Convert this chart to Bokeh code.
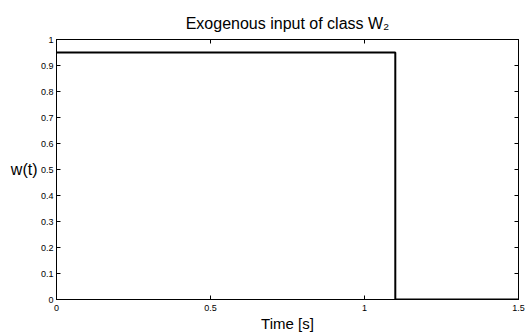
from bokeh.plotting import figure
from bokeh.models import LinearAxis, FixedTicker, Range1d
from bokeh.embed import file_html
from bokeh.resources import INLINE

# ---- data ----
time_s = [0.0, 1.1, 1.5]
w_values = [0.95, 0.0, 0.0]
x_ticks = [0, 0.5, 1, 1.5]
x_tick_labels = ["0", "0.5", "1", "1.5"]
y_ticks = [0, 0.1, 0.2, 0.3, 0.4, 0.5, 0.6, 0.7, 0.8, 0.9, 1]
y_tick_labels = ["0", "0.1", "0.2", "0.3", "0.4", "0.5", "0.6", "0.7", "0.8", "0.9", "1"]
title_text = "Exogenous input of class W\u2082"
x_label = "Time [s]"
y_label = "w(t)"

FONT = "Liberation Sans"

p = figure(width=531, height=335, output_backend="svg", toolbar_location=None,
           x_range=Range1d(0, 1.5), y_range=Range1d(0, 1),
           min_border_left=56, min_border_right=13, min_border_top=39, min_border_bottom=36,
           x_axis_location=None, y_axis_location=None)
p.grid.visible = False
p.outline_line_color = "black"
p.outline_line_width = 1
p.background_fill_color = "white"
p.border_fill_color = "white"

p.title.text = title_text
p.title.align = "center"
p.title.text_font = FONT
p.title.text_font_size = "16px"
p.title.text_font_style = "normal"
p.title.text_color = "black"
p.title.standoff = 15


def style_axis(ax, ticks, labels, show_labels):
    ax.ticker = FixedTicker(ticks=ticks)
    ax.minor_tick_line_color = None
    ax.major_tick_in = 4
    ax.major_tick_out = 0
    ax.axis_line_color = "black"
    ax.axis_line_width = 1
    ax.major_tick_line_color = "black"
    ax.major_label_text_font = FONT
    ax.major_label_text_color = "black"
    if show_labels:
        ax.major_label_overrides = dict(zip(ticks, labels))
        ax.major_label_text_font_size = "9px"
    else:
        ax.major_label_overrides = {t: "" for t in ticks}
        ax.major_label_text_font_size = "1px"
        ax.major_label_standoff = 0


xb = LinearAxis()
style_axis(xb, x_ticks, x_tick_labels, True)
xb.major_label_standoff = 5
xb.axis_label = x_label
xb.axis_label_text_font = FONT
xb.axis_label_text_font_size = "15px"
xb.axis_label_text_font_style = "normal"
xb.axis_label_text_color = "black"
xb.axis_label_standoff = 1
p.add_layout(xb, "below")

xt = LinearAxis()
style_axis(xt, x_ticks, x_tick_labels, False)
p.add_layout(xt, "above")

yl = LinearAxis()
style_axis(yl, y_ticks, y_tick_labels, True)
yl.major_label_standoff = 3
p.add_layout(yl, "left")

# separate label-only axis so the horizontal y label sits slightly above centre
ylab = LinearAxis(bounds=(0.5, 0.592))
ylab.ticker = FixedTicker(ticks=[])
ylab.axis_line_color = None
ylab.major_tick_line_color = None
ylab.minor_tick_line_color = None
ylab.major_label_text_font_size = "1px"
ylab.major_label_standoff = 0
ylab.axis_label = y_label
ylab.axis_label_text_font = FONT
ylab.axis_label_text_font_size = "16px"
ylab.axis_label_text_font_style = "normal"
ylab.axis_label_text_color = "black"
ylab.axis_label_standoff = 0
if "axis_label_orientation" in ylab.properties():
    ylab.axis_label_orientation = "horizontal"
p.add_layout(ylab, "left")

yr = LinearAxis()
style_axis(yr, y_ticks, y_tick_labels, False)
p.add_layout(yr, "right")

p.step(time_s, w_values, mode="after", line_color="black", line_width=2)

open("out.html", "w").write(file_html(p, INLINE))
